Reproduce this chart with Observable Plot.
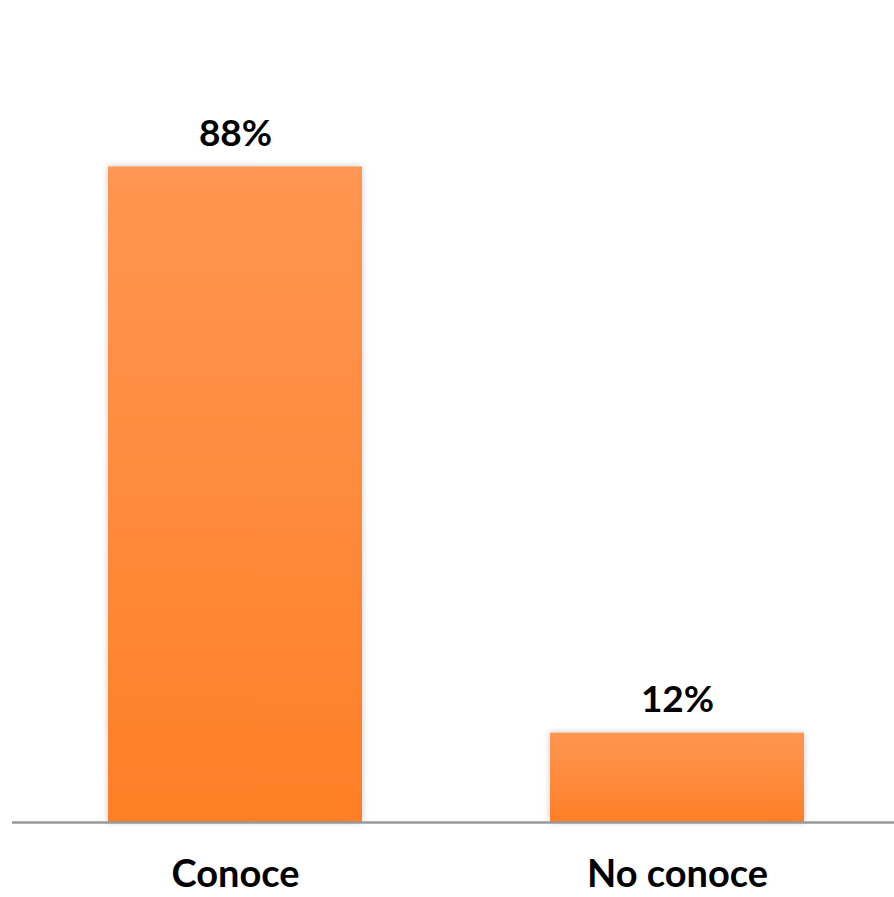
<!DOCTYPE html>
<html>
<head>
<meta charset="utf-8">
<script src="https://cdn.jsdelivr.net/npm/d3@7"></script>
<script src="https://cdn.jsdelivr.net/npm/@observablehq/plot@0.6"></script>
<style>
  html, body { margin: 0; padding: 0; background: #fff; }
  #chart svg { display: block; font-family: Lato, "Open Sans", sans-serif; }
</style>
</head>
<body>
<div id="chart"></div>
<script>
const categories = ["Conoce", "No conoce"];
const values = [88, 12];
const valueLabels = ["88%", "12%"];

const data = categories.map((c, i) => ({category: c, value: values[i], label: valueLabels[i]}));

const defs = () => {
  const d = d3.create("svg:defs");
  const g = d.append("linearGradient").attr("id", "barGrad")
    .attr("x1", 0).attr("y1", 0).attr("x2", 0).attr("y2", 1);
  g.append("stop").attr("offset", "0%").attr("stop-color", "#FF9652");
  g.append("stop").attr("offset", "100%").attr("stop-color", "#FF7F26");
  const f = d.append("filter").attr("id", "barShadow")
    .attr("x", "-10%").attr("y", "-10%").attr("width", "120%").attr("height", "120%");
  f.append("feDropShadow").attr("dx", 0).attr("dy", 0).attr("stdDeviation", 3)
    .attr("flood-color", "#000").attr("flood-opacity", 0.22);
  return d.node();
};

const chart = Plot.plot({
  width: 894,
  height: 897,
  marginLeft: 12,
  marginRight: 0,
  marginTop: 0,
  marginBottom: 75,
  x: {domain: categories, range: [13, 898], paddingInner: 0.426, paddingOuter: 0.213, label: null},
  y: {domain: [0, 100], range: [822, 77], axis: null},
  marks: [
    defs,
    Plot.barY(data, {x: "category", y: "value", fill: "url(#barGrad)"}),
    Plot.ruleY([0], {stroke: "#999999", strokeWidth: 2.5}),
    Plot.text(data, {x: "category", y: "value", text: "label", dy: -21, lineAnchor: "bottom",
      fontSize: 37, fontWeight: "bold", fill: "#000"}),
    Plot.axisX({tickSize: 0, tickPadding: 38, fontSize: 38, fontWeight: "bold", label: null, color: "#000"})
  ]
});

d3.select(chart).selectAll("g[aria-label=bar] rect").attr("filter", "url(#barShadow)");
d3.select(chart).selectAll("g[aria-label='x-axis tick label'] text").attr("fill", "#000");
document.getElementById("chart").appendChild(chart);
</script>
</body>
</html>
